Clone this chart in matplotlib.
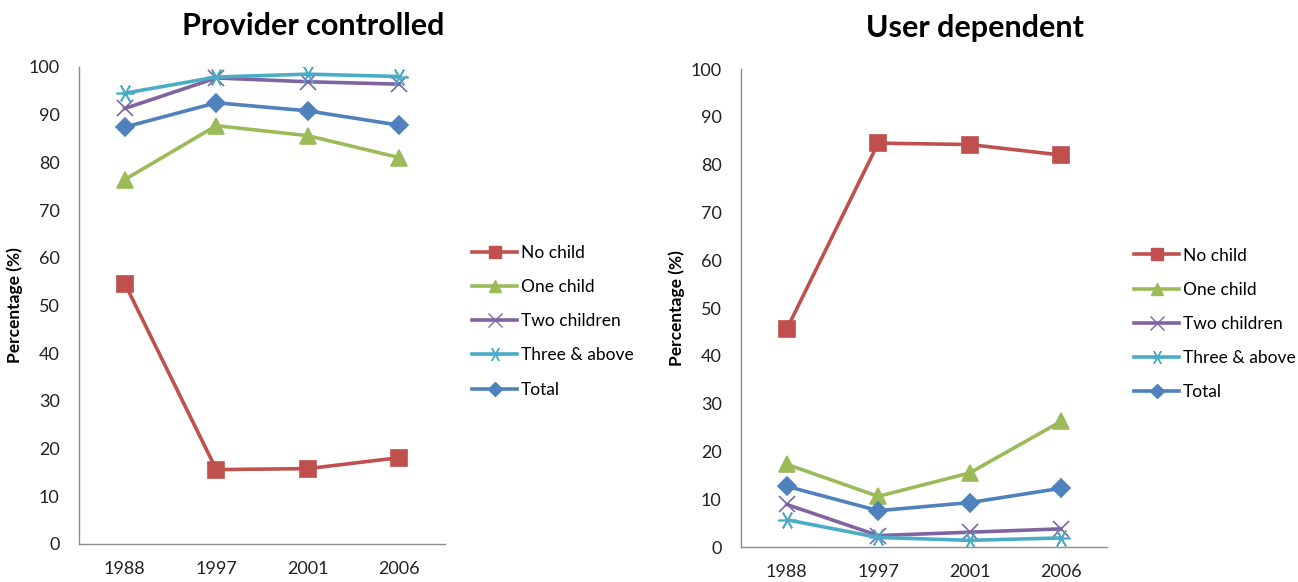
import matplotlib.pyplot as plt
from matplotlib.lines import Line2D

plt.rcParams['font.family'] = ['Lato', 'DejaVu Sans']

years = ['1988', '1997', '2001', '2006']
series_names = ['No child', 'One child', 'Two children', 'Three & above', 'Total']

# Провайдер-контролируемые методы, %
provider_no_child = [54.6, 15.6, 15.8, 18.1]
provider_one_child = [76.4, 87.7, 85.6, 81.0]
provider_two_children = [91.3, 97.7, 96.9, 96.4]
provider_three_above = [94.5, 97.9, 98.5, 98.0]
provider_total = [87.4, 92.5, 90.8, 87.8]

# Методы, зависящие от пользователя, %
user_no_child = [45.6, 84.5, 84.2, 82.0]
user_one_child = [17.3, 10.6, 15.5, 26.3]
user_two_children = [8.9, 2.4, 3.1, 3.8]
user_three_above = [5.7, 2.0, 1.4, 1.9]
user_total = [12.7, 7.6, 9.3, 12.3]

colors = ['#C0504D', '#9BBB59', '#8064A2', '#4BACC6', '#4F81BD']
markers = ['s', '^', 'x', (6, 2, 90), 'D']
msizes = [11, 11, 12, 13, 9]

fig = plt.figure(figsize=(12.98, 5.82), dpi=100)
ax1 = fig.add_axes([0.0609, 0.0653, 0.2820, 0.8196])
ax2 = fig.add_axes([0.5709, 0.0601, 0.2819, 0.8213])


def draw(ax, data, title, title_x, legend_y):
    x = range(len(years))
    for vals, c, m, s in zip(data, colors, markers, msizes):
        ax.plot(x, vals, color=c, lw=2.6, marker=m, ms=s, mew=1.2,
                markeredgecolor=c, markerfacecolor=c)
    ax.set_xlim(-0.5, 3.5)
    ax.set_ylim(0, 100)
    ax.set_xticks(list(x))
    ax.set_xticklabels(years)
    ax.set_yticks(range(0, 101, 10))
    ax.tick_params(length=0, labelsize=13, colors='#222222')
    ax.tick_params(axis='y', pad=14)
    ax.tick_params(axis='x', pad=12)
    for side in ['top', 'right']:
        ax.spines[side].set_visible(False)
    for side in ['left', 'bottom']:
        ax.spines[side].set_color('#8C8C8C')
        ax.spines[side].set_linewidth(1.0)
    ax.set_ylabel('Percentage (%)', fontsize=12.5, fontweight='bold', labelpad=4)
    ax.set_title(title, fontsize=22, fontweight='bold', x=title_x, y=1.0, pad=23)
    handles = [Line2D([], [], color=c, lw=2.6, marker=m, ms=s * 0.8,
                      markeredgecolor=c, markerfacecolor=c)
               for c, m, s in zip(colors, markers, msizes)]
    ax.legend(handles, series_names, loc='upper left',
              bbox_to_anchor=(1.055, legend_y), frameon=False, fontsize=12.5,
              handlelength=2.6, handletextpad=0.2, labelspacing=1.05,
              borderaxespad=0)


draw(ax1, [provider_no_child, provider_one_child, provider_two_children,
           provider_three_above, provider_total], 'Provider controlled', 0.64, 0.642)
draw(ax2, [user_no_child, user_one_child, user_two_children,
           user_three_above, user_total], 'User dependent', 0.64, 0.641)

fig.savefig('out.png', dpi=100)
